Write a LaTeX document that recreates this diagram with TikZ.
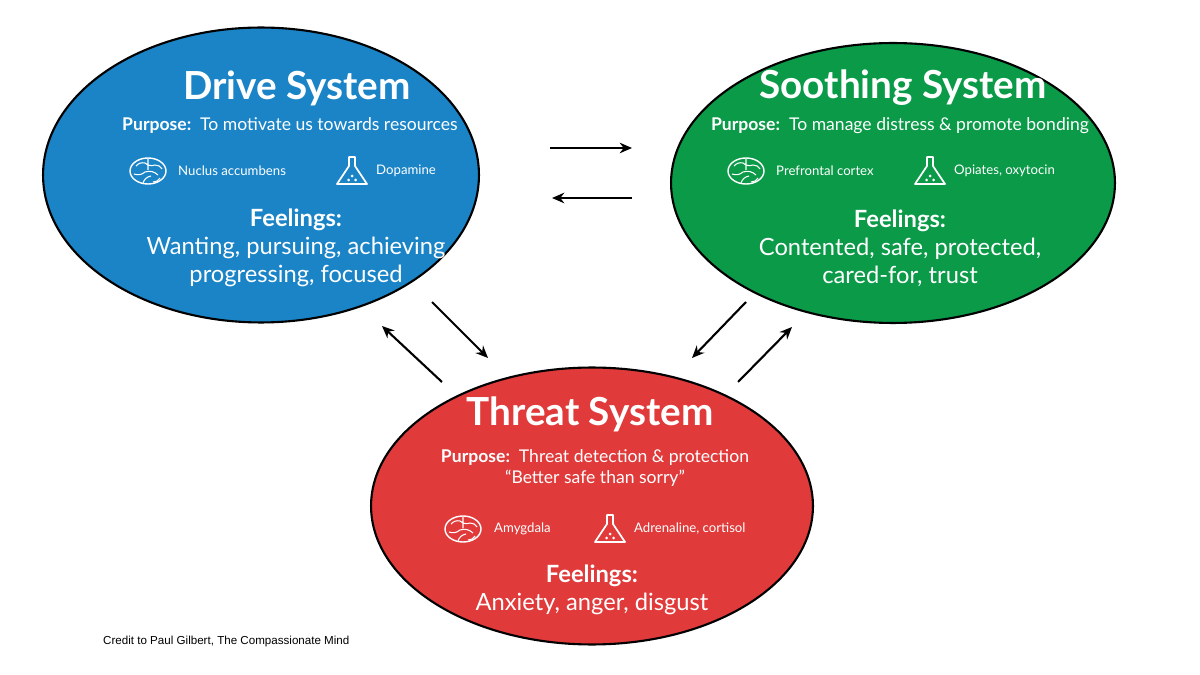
\documentclass[tikz,border=0pt]{standalone}
\usepackage{fontspec}
\setmainfont{Lato}
\newfontfamily\credfont{Liberation Sans}
\usetikzlibrary{shapes.geometric,arrows.meta}
\definecolor{dblue}{HTML}{1A84C7}
\definecolor{sgreen}{HTML}{0A9A48}
\definecolor{tred}{HTML}{E03A3A}
\tikzset{
 sys/.style={ellipse,draw=black,line width=1.2pt},
 ttl/.style={text=white,font=\fontsize{22}{24}\selectfont\bfseries},
 pur/.style={text=white,font=\fontsize{10}{12}\selectfont},
 ico/.style={text=white,font=\fontsize{7.5}{9}\selectfont,anchor=west},
 fee/.style={text=white,font=\fontsize{13.5}{16}\selectfont,align=center},
 arr/.style={-{Stealth[length=7pt,width=6pt]},line width=1.2pt},
 brain/.pic={\draw[white,line width=0.8pt] (0,0) ellipse (18 and 13);
   \draw[white,line width=0.6pt] (-12,-5) to[bend left] (-3,-8) to[bend right] (7,-6) to[bend left] (14,-2)
   (-14,3) to[bend right] (-3,1) to[bend left] (10,4) (0,-12)--(0,-1) (-5,12) to[bend left] (3,5)
   (5,11) to[bend right] (12,7);},
 flask/.pic={\draw[white,line width=1pt,line join=round] (-3,-14)--(-3,-5)--(-15,13)--(15,13)--(3,-5)--(3,-14)--cycle;
   \fill[white] (0,5) circle (1.5) (-3.5,9) circle (1.5) (3.5,9) circle (1.5);}
}
\begin{document}
\begin{tikzpicture}[x=0.02cm,y=-0.02cm]
\useasboundingbox[fill=white] (0,0) rectangle (1200,675);
% Drive
\node[sys,fill=dblue,minimum width=8.72cm,minimum height=5.9cm] (drive) at (261,175) {};
\node[ttl] at (297,88) {Drive System};
\node[pur] at (290,126) {\textbf{Purpose:}\ \ To motivate us towards resources};
\pic at (148,171) {brain}; \node[ico] at (172,171) {Nuclus accumbens};
\pic at (352,171) {flask}; \node[ico] at (370,171) {Dopamine};
\node[fee] at (296,248) {\textbf{Feelings:}\\Wanting, pursuing, achieving\\progressing, focused};
% Soothing
\node[sys,fill=sgreen,minimum width=8.88cm,minimum height=5.6cm] (sooth) at (893,183) {};
\node[ttl] at (903,88) {Soothing System};
\node[pur] at (900,126) {\textbf{Purpose:}\ \ To manage distress \& promote bonding};
\pic at (746,171) {brain}; \node[ico] at (770,171) {Prefrontal cortex};
\pic at (930,171) {flask}; \node[ico] at (948,171) {Opiates, oxytocin};
\node[fee] at (900,248) {\textbf{Feelings:}\\Contented, safe, protected,\\cared-for, trust};
% Threat
\node[sys,fill=tred,minimum width=8.84cm,minimum height=5.54cm] (threat) at (592,506) {};
\node[ttl] at (590,414) {Threat System};
\node[pur,align=center] at (595,468) {\textbf{Purpose:}\ \ Threat detection \& protection\\``Better safe than sorry''};
\pic at (463,529) {brain}; \node[ico] at (488,529) {Amygdala};
\pic at (610,529) {flask}; \node[ico] at (628,529) {Adrenaline, cortisol};
\node[fee] at (592,590) {\textbf{Feelings:}\\Anxiety, anger, disgust};
% arrows
\coordinate (a1) at (550,148); \coordinate (a2) at (632,148);
\coordinate (b1) at (632,198); \coordinate (b2) at (552,198);
\coordinate (c1) at (432,302); \coordinate (c2) at (488,358);
\coordinate (d1) at (442,382); \coordinate (d2) at (382,326);
\coordinate (e1) at (746,302); \coordinate (e2) at (692,358);
\coordinate (f1) at (738,382); \coordinate (f2) at (792,327);
\draw[arr] (a1)--(a2); \draw[arr] (b1)--(b2);
\draw[arr] (c1)--(c2); \draw[arr] (d1)--(d2);
\draw[arr] (e1)--(e2); \draw[arr] (f1)--(f2);
\node[anchor=west,font=\credfont\fontsize{6.6}{8}\selectfont] (credit) at (97,641) {Credit to Paul Gilbert, The Compassionate Mind};
\end{tikzpicture}
\end{document}
